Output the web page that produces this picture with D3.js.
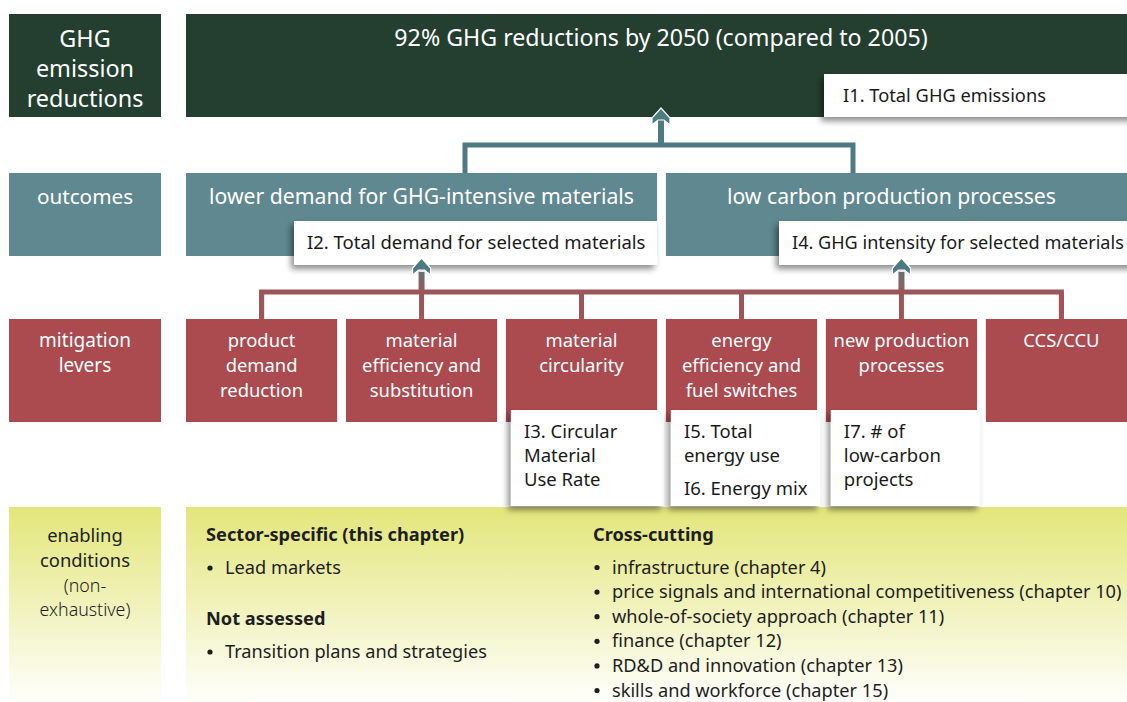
<!DOCTYPE html>
<html>
<head>
<meta charset="utf-8">
<script src="https://cdn.jsdelivr.net/npm/d3@7"></script>
<style>
  body { margin: 0; background: #fff; }
  svg { display: block; font-family: 'Noto Sans', sans-serif; }
</style>
</head>
<body>
<div id="chart"></div>
<script>
// Row labels on the left
const rowLabels = [
    ['GHG', 'emission', 'reductions'],
    ['outcomes'],
    ['mitigation', 'levers'],
    ['enabling', 'conditions']
];
const rowNote = ['(non-', 'exhaustive)'];

const goal = '92% GHG reductions by 2050 (compared to 2005)';
const goalIndicator = 'I1. Total GHG emissions';

const outcomes = ['lower demand for GHG-intensive materials', 'low carbon production processes'];
const outcomeIndicators = ['I2. Total demand for selected materials', 'I4. GHG intensity for selected materials'];

const levers = [
    ['product', 'demand', 'reduction'],
    ['material', 'efficiency and', 'substitution'],
    ['material', 'circularity'],
    ['energy', 'efficiency and', 'fuel switches'],
    ['new production', 'processes'],
    ['CCS/CCU']
];
// which outcome each lever feeds
const leverOutcome = [0, 0, 0, 1, 1, 1];
// indicators hanging under some levers (groups of lines)
const leverIndicators = [
    null,
    null,
    [['I3. Circular', 'Material', 'Use Rate']],
    [['I5. Total', 'energy use'], ['I6. Energy mix']],
    [['I7. # of', 'low-carbon', 'projects']],
    null
];

const sectorSpecific = ['Lead markets'];
const notAssessed = ['Transition plans and strategies'];
const crossCutting = [
    'infrastructure (chapter 4)',
    'price signals and international competitiveness (chapter 10)',
    'whole-of-society approach (chapter 11)',
    'finance (chapter 12)',
    'RD&D and innovation (chapter 13)',
    'skills and workforce (chapter 15)'
];

const colors = {
    goal: '#243f2f',
    outcome: '#5f8890',
    lever: '#ab4a4f',
    enabling: '#e3e67a',
    tealLine: '#4e7b81',
    redLine: '#9c5659'
};

const W = 1127, H = 702;
const svg = d3.select('#chart').append('svg')
    .attr('width', W)
    .attr('height', H);

const defs = svg.append('defs');
const shadow = defs.append('filter').attr('id', 'shadow')
    .attr('x', '-20%').attr('y', '-20%').attr('width', '140%').attr('height', '160%');
shadow.append('feDropShadow')
    .attr('dx', -3).attr('dy', 4)
    .attr('stdDeviation', 3)
    .attr('flood-color', '#000')
    .attr('flood-opacity', 0.45);

const enGrad = defs.append('linearGradient').attr('id', 'enGrad')
    .attr('x1', 0).attr('y1', 0).attr('x2', 0).attr('y2', 1);
enGrad.append('stop').attr('offset', '0%').attr('stop-color', colors.enabling);
enGrad.append('stop').attr('offset', '100%').attr('stop-color', '#ffffff');

// Scale for lever columns
const col = d3.scaleBand()
    .domain(d3.range(levers.length))
    .range([186, 1137])
    .paddingInner(0.055);
const bw = col.bandwidth();
const cx = i => col(i) + bw / 2;

const labelX = 9, labelW = 152;
const rowTop = [14, 173, 319, 507];
const rowH = [103, 83, 103, 200];
const lineH = 25;

function multiLine(g, lines, x, y, opts) {
    const t = g.append('text')
        .attr('x', x)
        .attr('y', y)
        .attr('text-anchor', opts.anchor || 'middle')
        .attr('font-size', opts.size || 19)
        .attr('fill', opts.fill || '#fff')
        .attr('font-weight', opts.weight || 400);
    lines.forEach((l, i) => {
        t.append('tspan').attr('x', x).attr('y', y + i * (opts.lh || lineH)).text(l);
    });
    return t;
}

// Left column labels
const rowFill = [colors.goal, colors.outcome, colors.lever, 'url(#enGrad)'];
rowLabels.forEach((lines, i) => {
    svg.append('rect')
        .attr('x', labelX).attr('y', rowTop[i])
        .attr('width', labelW).attr('height', rowH[i])
        .attr('fill', rowFill[i]);
    if (i === 0) multiLine(svg, lines, labelX + labelW / 2, rowTop[0] + 33, { size: 23.4, lh: 30 });
    else if (i === 1) multiLine(svg, lines, labelX + labelW / 2, 204, { size: 20.7 });
    else if (i === 2) multiLine(svg, lines, labelX + labelW / 2, 347, { size: 19 });
    else multiLine(svg, lines, labelX + labelW / 2, 542, { size: 18.4, fill: '#222' });
});
multiLine(svg, rowNote, labelX + labelW / 2, 592, { size: 17.8, fill: '#1e1e1e', lh: 24, weight: 300 });

// Goal box
const goalX0 = col(0), goalX1 = col(levers.length - 1) + bw;
svg.append('rect')
    .attr('x', goalX0).attr('y', rowTop[0])
    .attr('width', goalX1 - goalX0).attr('height', rowH[0])
    .attr('fill', colors.goal);
svg.append('text')
    .attr('x', 661).attr('y', 46)
    .attr('text-anchor', 'middle')
    .attr('font-size', 23.2)
    .attr('fill', '#fff')
    .text(goal);

// Outcome boxes
const outSpan = outcomes.map((o, k) => {
    const idx = leverOutcome.map((v, i) => v === k ? i : -1).filter(i => i >= 0);
    return [col(d3.min(idx)), col(d3.max(idx)) + bw];
});
outcomes.forEach((o, k) => {
    const [x0, x1] = outSpan[k];
    svg.append('rect')
        .attr('x', x0).attr('y', rowTop[1])
        .attr('width', x1 - x0).attr('height', rowH[1])
        .attr('fill', colors.outcome);
    svg.append('text')
        .attr('x', (x0 + x1) / 2 - (k === 1 ? 10 : 0)).attr('y', 204)
        .attr('text-anchor', 'middle')
        .attr('font-size', 21.2)
        .attr('fill', '#fff')
        .text(o);
});

// Lever boxes
levers.forEach((lines, i) => {
    svg.append('rect')
        .attr('x', col(i)).attr('y', rowTop[2])
        .attr('width', bw).attr('height', rowH[2])
        .attr('fill', colors.lever);
    multiLine(svg, lines, cx(i), 347, { size: 18.4 });
});

// Enabling box
svg.append('rect')
    .attr('x', col(0)).attr('y', rowTop[3])
    .attr('width', goalX1 - col(0)).attr('height', rowH[3])
    .attr('fill', 'url(#enGrad)');

// Connectors: outcomes -> goal
const topLinkX = [465, 853];
const topBarY = 145;
const conn = svg.append('g').attr('fill', 'none').attr('stroke-width', 5);
conn.append('path')
    .attr('stroke', colors.tealLine)
    .attr('d', `M${topLinkX[0]},${rowTop[1]} V${topBarY} H${topLinkX[1]} V${rowTop[1]}`);
conn.append('path')
    .attr('stroke', colors.tealLine)
    .attr('stroke-width', 6)
    .attr('d', `M661,${topBarY} V118`);

// Connectors: levers -> outcomes
const leverBarY = 292;
conn.append('path')
    .attr('stroke', colors.redLine)
    .attr('d', `M${cx(0)},${rowTop[2]} V${leverBarY} H${cx(levers.length - 1)} V${rowTop[2]}`);
levers.forEach((l, i) => {
    conn.append('path')
        .attr('stroke', colors.redLine)
        .attr('d', `M${cx(i)},${rowTop[2]} V${leverBarY}`);
});

// White indicator boxes
function indicatorBox(x, y, w, h) {
    svg.append('rect')
        .attr('x', x).attr('y', y)
        .attr('width', w).attr('height', h)
        .attr('fill', '#fff')
        .attr('filter', 'url(#shadow)');
}
indicatorBox(824, 74, goalX1 - 824, 43);
svg.append('text')
    .attr('x', 843).attr('y', 102)
    .attr('font-size', 18.3).attr('fill', '#1a1a1a')
    .text(goalIndicator);

const outIndX = [294, 779];
outcomeIndicators.forEach((t, k) => {
    const x1 = k === 0 ? outSpan[0][1] : goalX1;
    indicatorBox(outIndX[k], 221, x1 - outIndX[k], 44);
    svg.append('text')
        .attr('x', outIndX[k] + 13).attr('y', 249)
        .attr('font-size', k === 0 ? 18.5 : 18.1).attr('fill', '#1a1a1a')
        .text(t);
});

// up arrows to outcome indicators (from levers 1 and 4)
const arrowCols = [1, 4];
arrowCols.forEach(i => {
    const grad = defs.append('linearGradient').attr('id', 'ag' + i)
        .attr('gradientUnits', 'userSpaceOnUse')
        .attr('x1', 0).attr('y1', leverBarY).attr('x2', 0).attr('y2', 264);
    grad.append('stop').attr('offset', '0%').attr('stop-color', colors.redLine);
    grad.append('stop').attr('offset', '100%').attr('stop-color', colors.tealLine);
    svg.append('path')
        .attr('fill', 'none')
        .attr('stroke', `url(#ag${i})`)
        .attr('stroke-width', 6)
        .attr('d', `M${cx(i)},${leverBarY + 2} V272`);
});

function arrowHead(x, y) {
    svg.append('path')
        .attr('d', `M${x},${y} L${x + 9},${y + 10} L${x + 9},${y + 17} L${x + 3},${y + 12} L${x - 3},${y + 12} L${x - 9},${y + 17} L${x - 9},${y + 10} Z`)
        .attr('fill', colors.tealLine)
        .attr('stroke', '#fff')
        .attr('stroke-width', 1.2)
        .attr('stroke-linejoin', 'miter');
}
arrowHead(661, 108);
arrowCols.forEach(i => arrowHead(cx(i), 258));

// Lever indicators
leverIndicators.forEach((groups, i) => {
    if (!groups) return;
    const x = col(i) + 5;
    indicatorBox(x, 410, bw - (i === 2 ? -2 : 2), 96);
    let y = 438;
    groups.forEach((lines) => {
        multiLine(svg, lines, x + 13, y, { anchor: 'start', size: 18.5, fill: '#1a1a1a', lh: 24 });
        y += lines.length * 24 + 9;
    });
});

// Enabling conditions text
const fs = 18.2;
const secX = 206;
svg.append('text').attr('x', secX).attr('y', 541)
    .attr('font-size', fs).attr('font-weight', 700).attr('fill', '#1e1e1e')
    .text('Sector-specific (this chapter)');
function bullets(items, x, y0, step) {
    items.forEach((t, i) => {
        const y = y0 + i * step;
        svg.append('circle').attr('cx', x + 4).attr('cy', y - 6).attr('r', 2.6).attr('fill', '#1e1e1e');
        svg.append('text').attr('x', x + 19).attr('y', y)
            .attr('font-size', fs).attr('fill', '#1e1e1e').text(t);
    });
}
bullets(sectorSpecific, secX, 574, 25);
svg.append('text').attr('x', secX).attr('y', 625)
    .attr('font-size', fs).attr('font-weight', 700).attr('fill', '#1e1e1e')
    .text('Not assessed');
bullets(notAssessed, secX, 658, 25);

const crossX = 593;
svg.append('text').attr('x', crossX).attr('y', 541)
    .attr('font-size', fs).attr('font-weight', 700).attr('fill', '#1e1e1e')
    .text('Cross-cutting');
bullets(crossCutting, crossX, 573.5, 24.6);
</script>
</body>
</html>
